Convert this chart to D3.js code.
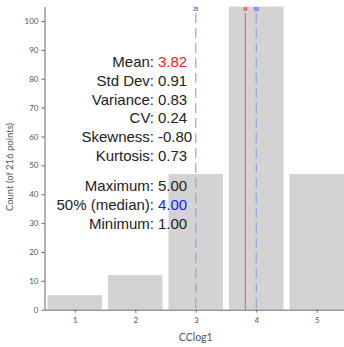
<!DOCTYPE html>
<html>
<head>
<meta charset="utf-8">
<script src="https://cdn.jsdelivr.net/npm/d3@7"></script>
<style>
  html, body { margin: 0; padding: 0; background: #fff; }
  svg { display: block; }
</style>
</head>
<body>
<svg id="chart" width="344" height="347"></svg>
<script>
// Histogram of CClog1 (216 points) with summary statistics
const categories = [1, 2, 3, 4, 5];
const counts = [5, 12, 47, 105, 47];
const yTicks = [0, 10, 20, 30, 40, 50, 60, 70, 80, 90, 100];

const meanValue = 3.82;
const q1Value = 3;
const medianValue = 4;

const statLabels1 = ["Mean:", "Std Dev:", "Variance:", "CV:", "Skewness:", "Kurtosis:"];
const statValues1 = ["3.82", "0.91", "0.83", "0.24", "-0.80", "0.73"];
const statLabels2 = ["Maximum:", "50% (median):", "Minimum:"];
const statValues2 = ["5.00", "4.00", "1.00"];

const svg = d3.select("#chart");
const plotLeft = 44.5, plotRight = 347, plotTop = 6.6, plotBottom = 309.7;

const x = d3.scaleLinear().domain([0.5, 5.5]).range([plotLeft, plotRight]);
const y = d3.scaleLinear().domain([0, 105]).range([plotBottom, plotTop]);

const axisColor = "#666";
const tickFont = "Lato, 'DejaVu Sans', sans-serif";

// bars
svg.append("g").selectAll("rect")
  .data(categories)
  .join("rect")
  .attr("x", (d) => x(d - 0.45))
  .attr("width", (d) => x(d + 0.45) - x(d - 0.45))
  .attr("y", (d, i) => y(counts[i]))
  .attr("height", (d, i) => y(0) - y(counts[i]))
  .attr("fill", "#d3d3d3");

// y axis
const yAxis = svg.append("g")
  .attr("transform", `translate(${plotLeft},0)`)
  .call(d3.axisLeft(y).tickValues(yTicks).tickSize(3).tickPadding(3).tickSizeOuter(0));
yAxis.select(".domain").attr("stroke", axisColor);
yAxis.selectAll(".tick line").attr("stroke", axisColor);
yAxis.selectAll("text").attr("fill", "#555").attr("font-size", 8).attr("font-family", tickFont);

// x axis
const xAxis = svg.append("g")
  .attr("transform", `translate(0,${plotBottom})`)
  .call(d3.axisBottom(x).tickValues(categories).tickFormat(d3.format("d")).tickSize(3).tickPadding(5).tickSizeOuter(0));
xAxis.select(".domain").attr("stroke", axisColor);
xAxis.selectAll(".tick line").attr("stroke", axisColor);
xAxis.selectAll("text").attr("fill", "#555").attr("font-size", 8).attr("font-family", tickFont);

// axis titles
svg.append("text")
  .attr("x", (plotLeft + plotRight) / 2)
  .attr("y", 341)
  .attr("text-anchor", "middle")
  .attr("font-size", 10.5)
  .attr("font-family", tickFont)
  .attr("fill", "#555")
  .text("CClog1");

svg.append("text")
  .attr("transform", `translate(13,167) rotate(-90)`)
  .attr("text-anchor", "middle")
  .attr("font-size", 9.5)
  .attr("font-family", tickFont)
  .attr("fill", "#555")
  .text("Count (of 216 points)");

// reference lines: quartile, mean, median
const refLines = [
  { v: q1Value, color: "#8ea6e6", dash: "10,5", label: "25", labelColor: "#3355ee" },
  { v: meanValue, color: "#e07070", dash: null, label: "M", labelColor: "#ee3333" },
  { v: medianValue, color: "#8ea6e6", dash: "10,5", label: "50", labelColor: "#3355ee" }
];
const ref = svg.append("g");
ref.selectAll("line")
  .data(refLines)
  .join("line")
  .attr("x1", (d) => x(d.v)).attr("x2", (d) => x(d.v))
  .attr("y1", 13).attr("y2", plotBottom)
  .attr("stroke", (d) => d.color)
  .attr("stroke-width", 1.2)
  .attr("stroke-dasharray", (d) => d.dash);
ref.selectAll("text")
  .data(refLines)
  .join("text")
  .attr("x", (d) => x(d.v))
  .attr("y", 11)
  .attr("text-anchor", "middle")
  .attr("font-size", 4.5)
  .attr("font-family", "'Liberation Sans', Arial, sans-serif")
  .attr("font-weight", "bold")
  .attr("fill", (d) => d.labelColor)
  .text((d) => d.label);

// summary statistics block
const statFont = "'Liberation Sans', Arial, sans-serif";
const colonX = 154, valueX = 158;
function statRows(labels, values, y0, step, colors) {
  const g = svg.append("g").attr("font-family", statFont).attr("font-size", 15);
  labels.forEach((lab, i) => {
    g.append("text")
      .attr("x", colonX).attr("y", y0 + i * step)
      .attr("text-anchor", "end")
      .attr("fill", "#222")
      .text(lab);
    g.append("text")
      .attr("x", valueX).attr("y", y0 + i * step)
      .attr("fill", colors[i] || "#222")
      .text(values[i]);
  });
}
statRows(statLabels1, statValues1, 67, 18.8, ["#ff1a1a"]);
statRows(statLabels2, statValues2, 191, 19, [null, "#1a1aff"]);
</script>
</body>
</html>
